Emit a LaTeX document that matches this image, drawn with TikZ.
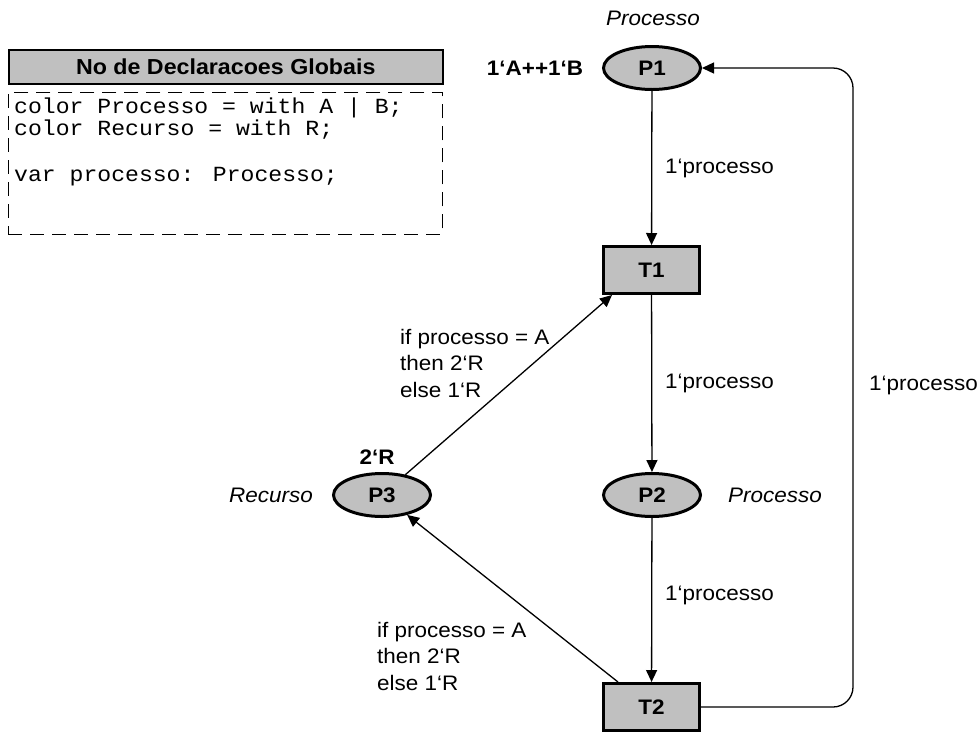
\documentclass[tikz,border=0pt]{standalone}
\usepackage{fontspec}
\setmainfont[FakeStretch=1.07]{Liberation Sans}
\newfontfamily\codefont[FakeStretch=1.07]{Liberation Mono}
\usetikzlibrary{shapes.geometric,arrows.meta}
\definecolor{placegray}{HTML}{C0C0C0}
\begin{document}
\begin{tikzpicture}[x=1pt,y=-1pt,
  txt/.style={font=\fontsize{21}{26.5}\selectfont, inner sep=0pt},
  btxt/.style={font=\fontsize{21}{26.5}\selectfont\bfseries, inner sep=0pt},
  itxt/.style={font=\fontsize{21}{26.5}\selectfont\itshape, inner sep=0pt},
  code/.style={font=\fontsize{21.6}{23}\selectfont\codefont, inner sep=0pt, anchor=west},
  place/.style={ellipse, draw, line width=3pt, fill=placegray, minimum width=97pt, minimum height=43pt, inner sep=0pt, font=\fontsize{21}{25}\selectfont\bfseries},
  trans/.style={rectangle, draw, line width=3pt, fill=placegray, minimum width=96pt, minimum height=47pt, inner sep=0pt, font=\fontsize{21}{25}\selectfont\bfseries},
  arc/.style={line width=1.3pt, -{Triangle[length=12pt,width=11pt]}},
  lab/.style={txt, anchor=west, align=left}
]
\useasboundingbox (0,0) rectangle (980,732);

% Declarations
\node[draw, line width=1.5pt, fill=placegray, minimum width=434pt, minimum height=34pt, inner sep=0pt, anchor=north west, font=\fontsize{21.7}{25}\selectfont\bfseries] (hdr) at (8,49) {No de Declaracoes Globais};
\node[draw, line width=0.9pt, dash pattern=on 14pt off 8pt, minimum width=434pt, minimum height=142pt, inner sep=0pt, anchor=north west] (decl) at (8,92) {};
\node[code] (c1) at (14,108) {color Processo = with A | B;};
\node[code] (c2) at (14,130) {color Recurso = with R;};
\node[code] (c3) at (14,177) {var processo: Processo;};

% Places and transitions
\node[place] (P1) at (652,68) {P1};
\node[place] (P2) at (652,495) {P2};
\node[place] (P3) at (382,495) {P3};
\node[trans] (T1) at (651.5,270) {T1};
\node[trans] (T2) at (651.5,707) {T2};

% Inscriptions
\node[itxt] (tP1) at (653,18) {Processo};
\node[btxt] (iP1) at (535,68) {1‘A++1‘B};
\node[itxt, anchor=west] (tP2) at (728,495) {Processo};
\node[itxt] (tP3) at (271,495) {Recurso};
\node[btxt] (iP3) at (377,457) {2‘R};

% Arcs
\draw[arc] (P1) -- (T1);
\draw[arc] (T1) -- (P2);
\draw[arc] (P2) -- (T2);
\coordinate (tgt1) at ([xshift=10pt]T1.south west);
\draw[arc] (P3) -- (tgt1);
\coordinate (src2) at ([xshift=16pt]T2.north west);
\draw[arc] (src2) -- (P3);
\coordinate (loop) at (853,400);
\draw[arc, rounded corners=20pt] (T2.east) -| (loop |- P1.east) -- (P1.east);

% Arc labels
\node[lab] (a1) at (665,168) {1‘processo};
\node[lab] (a2) at (665,383) {1‘processo};
\node[lab] (a3) at (665,595) {1‘processo};
\node[lab] (a4) at (869,385) {1‘processo};
\node[lab] (a5) at (400,363) {if processo = A\\then 2‘R\\else 1‘R};
\node[lab] (a6) at (377,656) {if processo = A\\then 2‘R\\else 1‘R};
\end{tikzpicture}
\end{document}
